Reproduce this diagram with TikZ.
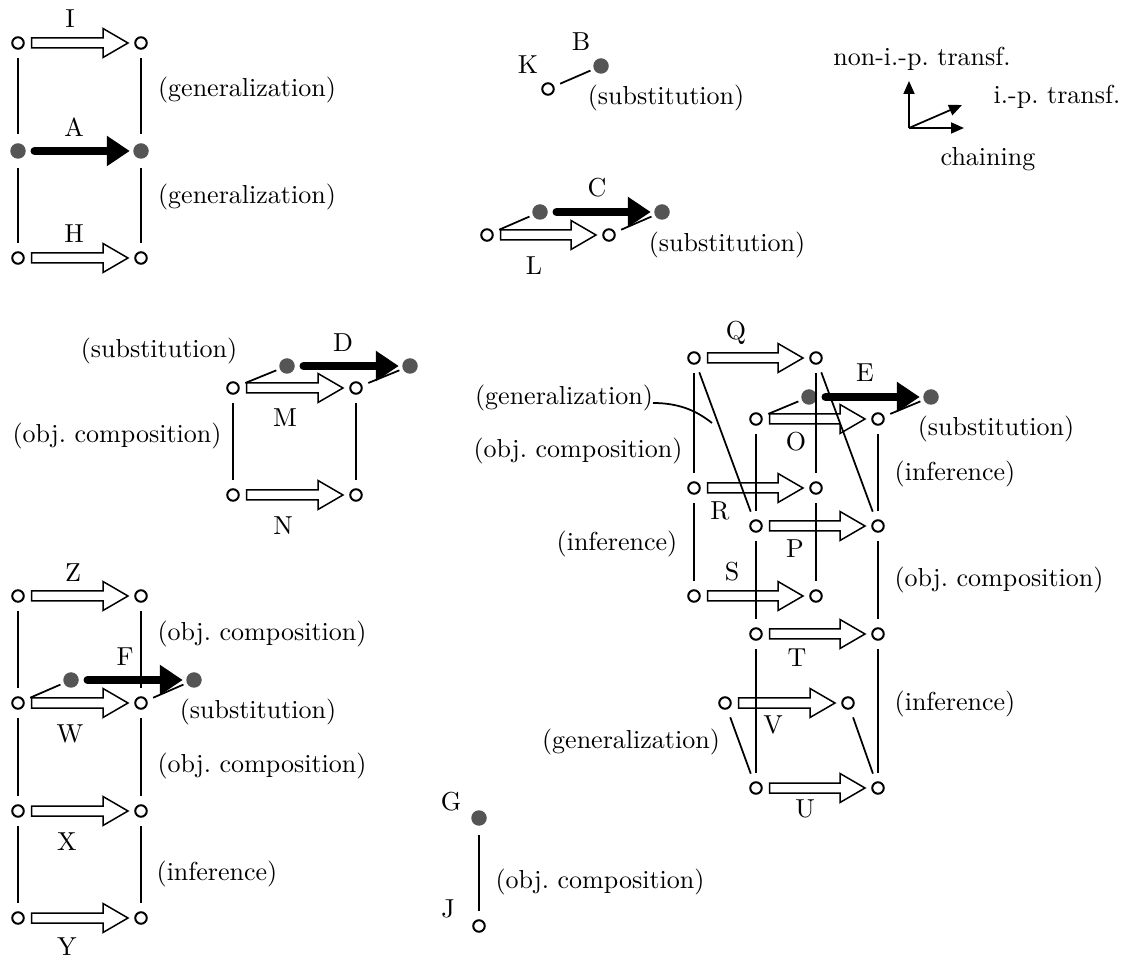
\documentclass[tikz,border=0pt]{standalone}
\usetikzlibrary{arrows.meta,calc}
\definecolor{dotgray}{RGB}{85,85,85}
\begin{document}
\frenchspacing
\begin{tikzpicture}[x=0.4pt,y=-0.4pt,
 every node/.style={font=\fontsize{10.4}{12.5}\selectfont\frenchspacing},
 op/.style={circle,draw,line width=0.8pt,inner sep=0pt,minimum size=4.6pt},
 fl/.style={circle,fill=dotgray,inner sep=0pt,minimum size=6.2pt},
 lnk/.style={line width=0.7pt,shorten <=3.4pt,shorten >=3.4pt},
 sub/.style={line width=0.7pt,shorten <=2.6pt,shorten >=1.3pt},
 blk/.style={line width=3.2pt,line cap=round,-{Triangle[length=9.2pt,width=11.6pt]},shorten <=3.3pt,shorten >=1.2pt},
 hollow/.style={draw,line width=0.6pt,to path={let \p1=(\tikztostart.center), \p2=(\tikztotarget.center) in
   (\x1+5.4pt,\y1+2pt) -- (\x2-15.2pt,\y1+2pt) -- (\x2-15.2pt,\y1+5.8pt) -- (\x2-5.2pt,\y1)
   -- (\x2-15.2pt,\y1-5.8pt) -- (\x2-15.2pt,\y1-2pt) -- (\x1+5.4pt,\y1-2pt) -- cycle}},
 txt/.style={inner sep=0pt},
 leg/.style={line width=0.7pt,-{Triangle[length=5.2pt,width=4.4pt]}}
]
\useasboundingbox (0,0) rectangle (1127,958);

% ---------- group I / A / H ----------
\node[op] (il) at (18,43) {};
\node[op] (ir) at (141,43) {};
\node[fl] (al) at (18,151) {};
\node[fl] (ar) at (141,151) {};
\node[op] (hl) at (18,258) {};
\node[op] (hr) at (141,258) {};
\draw[lnk] (il) -- (al); \draw[lnk] (al) -- (hl);
\draw[lnk] (ir) -- (ar); \draw[lnk] (ar) -- (hr);
\draw[hollow] (il) to (ir);
\draw[hollow] (hl) to (hr);
\draw[blk] (al) -- (ar);
\node[txt] (tI) at (70,19) {I};
\node[txt] (tA) at (74,127) {A};
\node[txt] (tH) at (74,234) {H};
\node[txt] (g1) at (247,90) {(generalization)};
\node[txt] (g2) at (247,197) {(generalization)};

% ---------- group K / B ----------
\node[op] (k) at (548,89) {};
\node[fl] (b) at (601,66) {};
\draw[sub] (k) -- (b);
\node[txt] (tK) at (528,65) {K};
\node[txt] (tB) at (581,42) {B};
\node[txt] (s1) at (666,98) {(substitution)};

% ---------- group L / C ----------
\node[op] (ll) at (487,235) {};
\node[op] (lr) at (609,235) {};
\node[fl] (cl) at (540,212) {};
\node[fl] (cr) at (662,212) {};
\draw[sub] (ll) -- (cl); \draw[sub] (lr) -- (cr);
\draw[hollow] (ll) to (lr);
\draw[blk] (cl) -- (cr);
\node[txt] (tC) at (597,188) {C};
\node[txt] (tL) at (534,266) {L};
\node[txt] (s2) at (727,245) {(substitution)};

% ---------- legend ----------
\coordinate (lo) at (909,128);
\coordinate (lu) at (909,81);
\coordinate (lri) at (964,128);
\coordinate (ld) at (962,105);
\draw[leg] (lo) -- (lu);
\draw[leg] (lo) -- (lri);
\draw[leg] (lo) -- (ld);
\node[txt] (n1) at (922,59) {non-i.-p. transf.};
\node[txt] (n2) at (1057,97) {i.-p. transf.};
\node[txt] (n3) at (988,159) {chaining};

% ---------- group M / N / D ----------
\node[op] (ml) at (233,388) {};
\node[op] (mr) at (356,388) {};
\node[op] (nl) at (233,495) {};
\node[op] (nr) at (356,495) {};
\node[fl] (dl) at (287,366) {};
\node[fl] (dr) at (410,366) {};
\draw[lnk] (ml) -- (nl); \draw[lnk] (mr) -- (nr);
\draw[sub] (ml) -- (dl); \draw[sub] (mr) -- (dr);
\draw[hollow] (ml) to (mr);
\draw[hollow] (nl) to (nr);
\draw[blk] (dl) -- (dr);
\node[txt] (tD) at (343,343) {D};
\node[txt] (tM) at (285,418) {M};
\node[txt] (tN) at (283,526) {N};
\node[txt] (s3) at (159,351) {(substitution)};
\node[txt] (c1) at (117,436) {(obj. composition)};

% ---------- big group ----------
\node[op] (ql) at (694,358) {};
\node[op] (qr) at (816,358) {};
\node[op] (rl) at (694,488) {};
\node[op] (rr) at (816,488) {};
\node[op] (sl) at (694,596) {};
\node[op] (sr) at (816,596) {};
\node[op] (ol) at (756,419) {};
\node[op] (or) at (878,419) {};
\node[op] (pl) at (756,526) {};
\node[op] (pr) at (878,526) {};
\node[op] (tl) at (756,634) {};
\node[op] (tr) at (878,634) {};
\node[op] (ul) at (756,788) {};
\node[op] (ur) at (878,788) {};
\node[op] (vl) at (725,703) {};
\node[op] (vr) at (848,703) {};
\node[fl] (el) at (809,397) {};
\node[fl] (er) at (931,397) {};
\draw[lnk] (ql) -- (rl); \draw[lnk] (rl) -- (sl);
\draw[lnk] (qr) -- (rr); \draw[lnk] (rr) -- (sr);
\draw[lnk] (ol) -- (pl); \draw[lnk] (pl) -- (tl); \draw[lnk] (tl) -- (ul);
\draw[lnk] (or) -- (pr); \draw[lnk] (pr) -- (tr); \draw[lnk] (tr) -- (ur);
\draw[lnk] (ql) -- (pl); \draw[lnk] (qr) -- (pr);
\draw[lnk] (vl) -- (ul); \draw[lnk] (vr) -- (ur);
\draw[sub] (ol) -- (el); \draw[sub] (or) -- (er);
\draw[hollow] (ql) to (qr);
\draw[hollow] (ol) to (or);
\draw[hollow] (rl) to (rr);
\draw[hollow] (pl) to (pr);
\draw[hollow] (sl) to (sr);
\draw[hollow] (tl) to (tr);
\draw[hollow] (vl) to (vr);
\draw[hollow] (ul) to (ur);
\draw[blk] (el) -- (er);
\node[txt] (tQ) at (736,333) {Q};
\node[txt] (tE) at (865,373) {E};
\node[txt] (tO) at (796,442) {O};
\node[txt] (tR) at (720,511) {R};
\node[txt] (tP) at (795,549) {P};
\node[txt] (tS) at (732,572) {S};
\node[txt] (tT) at (797,658) {T};
\node[txt] (tV) at (773,725) {V};
\node[txt] (tU) at (805,809) {U};
\node[txt] (g3) at (564,398) {(generalization)};
\node[txt] (s4) at (996,429) {(substitution)};
\node[txt] (c2) at (578,451) {(obj. composition)};
\node[txt] (f1) at (955,474) {(inference)};
\node[txt] (f2) at (617,544) {(inference)};
\node[txt] (c3) at (999,580) {(obj. composition)};
\node[txt] (f3) at (955,704) {(inference)};
\node[txt] (g4) at (631,742) {(generalization)};
\coordinate (ga) at (653,403);
\coordinate (gb) at (712,423);
\draw[line width=0.7pt] (ga) .. controls (681,403) and (698,412) .. (gb);

% ---------- group Z / W / X / Y / F ----------
\node[op] (zl) at (18,596) {};
\node[op] (zr) at (141,596) {};
\node[op] (wl) at (18,703) {};
\node[op] (wr) at (141,703) {};
\node[op] (xl) at (18,811) {};
\node[op] (xr) at (141,811) {};
\node[op] (yl) at (18,918) {};
\node[op] (yr) at (141,918) {};
\node[fl] (fl1) at (71,680) {};
\node[fl] (fr1) at (194,680) {};
\draw[lnk] (zl) -- (wl); \draw[lnk] (wl) -- (xl); \draw[lnk] (xl) -- (yl);
\draw[lnk] (zr) -- (wr); \draw[lnk] (wr) -- (xr); \draw[lnk] (xr) -- (yr);
\draw[sub] (wl) -- (fl1); \draw[sub] (wr) -- (fr1);
\draw[hollow] (zl) to (zr);
\draw[hollow] (wl) to (wr);
\draw[hollow] (xl) to (xr);
\draw[hollow] (yl) to (yr);
\draw[blk] (fl1) -- (fr1);
\node[txt] (tZ) at (73,573) {Z};
\node[txt] (tF) at (125,657) {F};
\node[txt] (tW) at (70,734) {W};
\node[txt] (tX) at (67,842) {X};
\node[txt] (tY) at (67,947) {Y};
\node[txt] (c4) at (262,634) {(obj. composition)};
\node[txt] (s5) at (258,712) {(substitution)};
\node[txt] (c5) at (262,766) {(obj. composition)};
\node[txt] (f4) at (217,874) {(inference)};

% ---------- group G / J ----------
\node[fl] (g) at (479,818) {};
\node[op] (j) at (479,926) {};
\draw[lnk] (g) -- (j);
\node[txt] (tG) at (451,802) {G};
\node[txt] (tJ) at (448,909) {J};
\node[txt] (c6) at (600,882) {(obj. composition)};
\end{tikzpicture}
\end{document}
